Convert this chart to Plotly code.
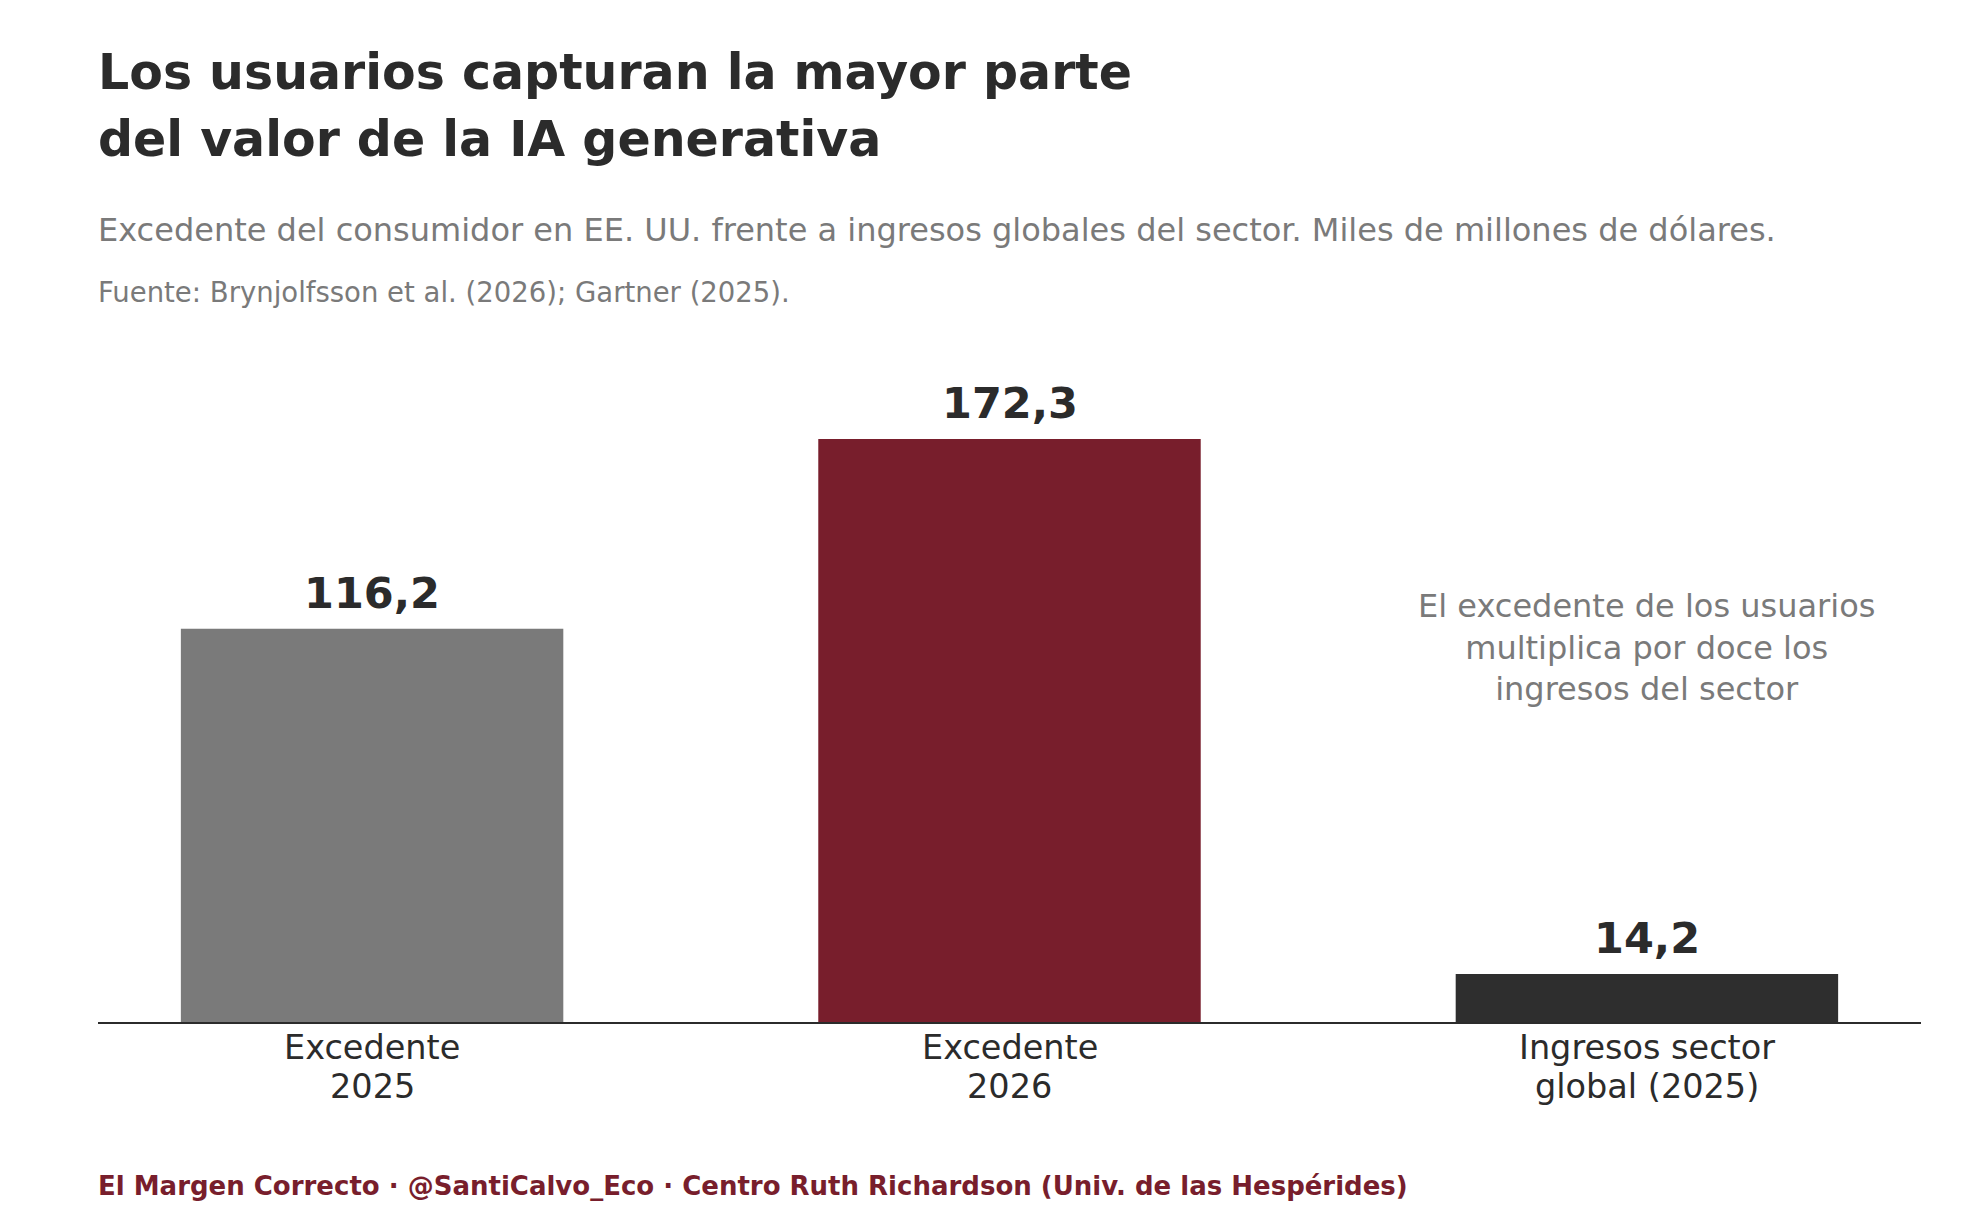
import plotly.graph_objects as go

# data
categories = ["Excedente<br>2025", "Excedente<br>2026", "Ingresos sector<br>global (2025)"]
values = [116.2, 172.3, 14.2]
value_labels = ["116,2", "172,3", "14,2"]
bar_colors = ["#7a7a7a", "#781e2c", "#2e2e2e"]

title_lines = ["Los usuarios capturan la mayor parte", "del valor de la IA generativa"]
subtitle = "Excedente del consumidor en EE. UU. frente a ingresos globales del sector. Miles de millones de dólares."
source = "Fuente: Brynjolfsson et al. (2026); Gartner (2025)."
note = "El excedente de los usuarios<br>multiplica por doce los<br>ingresos del sector"
footer = "El Margen Correcto · @SantiCalvo_Eco · Centro Ruth Richardson (Univ. de las Hespérides)"

FONT = "DejaVu Sans"
W, H = 1980, 1232
M_L, M_R, M_T, M_B = 90, 67, 371, 218
PLOT_H = H - M_T - M_B


def py(px):
    # pixel row -> paper y
    return (H - M_B - px) / PLOT_H


fig = go.Figure()
fig.add_trace(
    go.Bar(
        x=categories,
        y=values,
        marker=dict(color=bar_colors, line=dict(width=0)),
        width=0.6,
        hoverinfo="skip",
    )
)

# value labels above bars
for c, v, t in zip(categories, values, value_labels):
    fig.add_annotation(
        x=c, y=v, text=f"<b>{t}</b>", showarrow=False,
        xanchor="center", yanchor="middle", yshift=36,
        font=dict(family=FONT, size=43, color="#2b2b2b"),
    )

# category labels, drawn line by line for tighter spacing
for c in categories:
    for j, part in enumerate(c.split("<br>")):
        fig.add_annotation(
            x=c, yref="paper", y=py(H - M_B + 25 + 39 * j), text=part,
            showarrow=False, xanchor="center", yanchor="middle",
            font=dict(family=FONT, size=33.5, color="#2b2b2b"),
        )

fig.add_annotation(
    x=categories[2], y=110.7, text=note, showarrow=False,
    xanchor="center", yanchor="middle", align="center",
    font=dict(family=FONT, size=32, color="#7a7a7a"),
)

for i, line in enumerate(title_lines):
    fig.add_annotation(
        xref="paper", yref="paper", x=0, y=py(64 + 68 * i), xshift=-2,
        text=f"<b>{line}</b>", showarrow=False,
        xanchor="left", yanchor="middle",
        font=dict(family=FONT, size=49, color="#2b2b2b"),
    )

fig.add_annotation(
    xref="paper", yref="paper", x=0, y=py(222), xshift=-2, text=subtitle, showarrow=False,
    xanchor="left", yanchor="middle",
    font=dict(family=FONT, size=32, color="#7a7a7a"),
)
fig.add_annotation(
    xref="paper", yref="paper", x=0, y=py(284), xshift=-2, text=source, showarrow=False,
    xanchor="left", yanchor="middle",
    font=dict(family=FONT, size=27.5, color="#7a7a7a"),
)
fig.add_annotation(
    xref="paper", yref="paper", x=0, y=py(1178), xshift=-2, text=f"<b>{footer}</b>",
    showarrow=False, xanchor="left", yanchor="middle",
    font=dict(family=FONT, size=26, color="#781e2c"),
)

fig.update_layout(
    width=W, height=H,
    margin=dict(l=M_L, r=M_R, t=M_T, b=M_B),
    paper_bgcolor="white", plot_bgcolor="white",
    showlegend=False,
    font=dict(family=FONT, color="#2b2b2b"),
)
fig.update_xaxes(
    range=[-0.43, 2.43], showline=True, linecolor="#2b2b2b", linewidth=2,
    ticks="", showticklabels=False, showgrid=False, zeroline=False,
)
fig.update_yaxes(
    range=[0, 190], visible=False, showgrid=False, zeroline=False,
)

fig.write_html("out.html")
